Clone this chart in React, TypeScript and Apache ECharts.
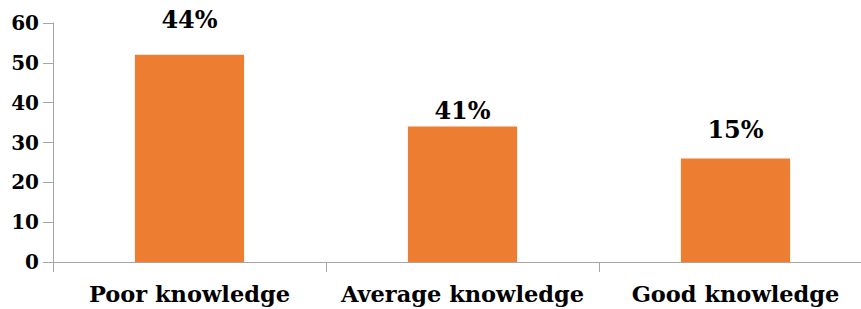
import React, { useEffect, useRef } from "react";
import * as echarts from "echarts";

const categories = ["Poor knowledge", "Average knowledge", "Good knowledge"];
const values = [52, 34, 26];
const percentLabels = ["44%", "41%", "15%"];
const labelDistances = [23, 4, 17];
const yTicks = { min: 0, max: 60, interval: 10 };

export default function App() {
  const ref = useRef<HTMLDivElement>(null);
  useEffect(() => {
    if (!ref.current) return;
    const chart = echarts.init(ref.current, undefined, { renderer: "svg" });
    const font = "DejaVu Serif";
    chart.setOption({
      animation: false,
      textStyle: { fontFamily: font },
      grid: {
        left: 53,
        width: 819,
        top: 23,
        bottom: 47,
        containLabel: false,
        outerBoundsMode: "none",
      },
      xAxis: {
        type: "category",
        data: categories,
        boundaryGap: true,
        axisLine: { lineStyle: { color: "#a6a6a6", width: 1 } },
        axisTick: { show: true, length: 10, alignWithLabel: false, lineStyle: { color: "#a6a6a6" } },
        axisLabel: {
          color: "#000",
          fontFamily: font,
          fontWeight: "bold",
          fontSize: 22.5,
          margin: 20,
          interval: 0,
        },
      },
      yAxis: {
        type: "value",
        min: yTicks.min,
        max: yTicks.max,
        interval: yTicks.interval,
        splitLine: { show: false },
        axisLine: { show: true, lineStyle: { color: "#a6a6a6", width: 1 } },
        axisTick: { show: true, length: 10, lineStyle: { color: "#a6a6a6" } },
        axisLabel: {
          color: "#000",
          fontFamily: font,
          fontWeight: "bold",
          fontSize: 20,
          margin: 14,
        },
      },
      series: [
        {
          type: "bar",
          barWidth: "40%",
          itemStyle: { color: "#ED7D31" },
          data: values.map((v, i) => ({
            value: v,
            label: {
              show: true,
              position: "top",
              distance: labelDistances[i],
              formatter: percentLabels[i],
              color: "#000",
              fontFamily: font,
              fontWeight: "bold",
              fontSize: 24,
            },
          })),
        },
      ],
    });
    return () => chart.dispose();
  }, []);
  return <div ref={ref} style={{ width: 861, height: 309, position: "absolute", left: 0, top: 0 }} />;
}
